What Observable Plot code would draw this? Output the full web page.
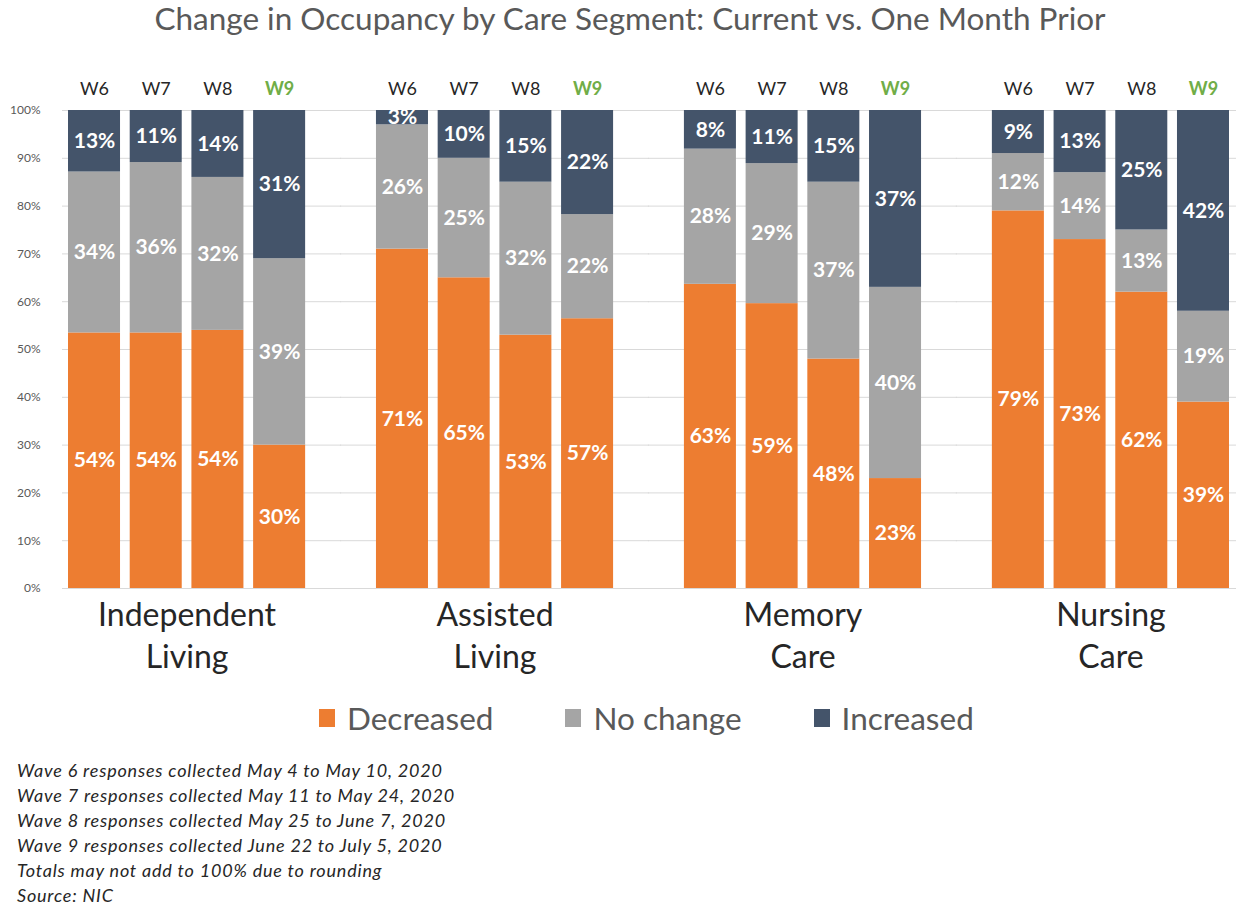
<!DOCTYPE html>
<html>
<head>
<meta charset="utf-8">
<script src="https://cdn.jsdelivr.net/npm/d3@7"></script>
<script src="https://cdn.jsdelivr.net/npm/@observablehq/plot@0.6"></script>
<style>
  html, body { margin: 0; padding: 0; background: #fff; }
  body { width: 1252px; font-family: Lato, "Noto Sans", sans-serif; }
  #title { height: 40px; line-height: 36px; text-align: center; font-size: 31.5px; color: #595959; padding-left: 8px; }
  #chart svg { display: block; overflow: visible; }
  #legend { height: 56px; display: flex; align-items: center; padding-left: 319px; font-size: 31.5px; color: #595959; }
  #legend .item { display: flex; align-items: center; margin-right: 72px; }
  #legend .sw { width: 16px; height: 18px; margin-right: 12px; }
  #notes { padding-top: 12px; padding-left: 17px; font-style: italic; font-size: 18px; letter-spacing: 0.8px; line-height: 25px; color: #262626; }
</style>
</head>
<body>
<div id="title">Change in Occupancy by Care Segment: Current vs. One Month Prior</div>
<div id="chart"></div>
<div id="legend"></div>
<div id="notes"></div>
<script>
const segments = ["Independent Living", "Assisted Living", "Memory Care", "Nursing Care"];
const segmentLabels = ["Independent\nLiving", "Assisted\nLiving", "Memory\nCare", "Nursing\nCare"];
const waves = ["W6", "W7", "W8", "W9"];
const statuses = ["Decreased", "No change", "Increased"];
const colors = ["#ED7D31", "#A5A5A5", "#44546A"];
// values per segment (rows) and wave (columns), in percent
const decreased = [[54, 54, 54, 30], [71, 65, 53, 57], [63, 59, 48, 23], [79, 73, 62, 39]];
const noChange  = [[34, 36, 32, 39], [26, 25, 32, 22], [28, 29, 37, 40], [12, 14, 13, 19]];
const increased = [[13, 11, 14, 31], [3, 10, 15, 22], [8, 11, 15, 37], [9, 13, 25, 42]];
const yTicks = [0, 0.1, 0.2, 0.3, 0.4, 0.5, 0.6, 0.7, 0.8, 0.9, 1];
const notes = [
  "Wave 6 responses collected May 4 to May 10, 2020",
  "Wave 7 responses collected May 11 to May 24, 2020",
  "Wave 8 responses collected May 25 to June 7, 2020",
  "Wave 9 responses collected June 22 to July 5, 2020",
  "Totals may not add to 100% due to rounding",
  "Source: NIC"
];

const series = [decreased, noChange, increased];
const rows = [];
const waveRows = [];
segments.forEach((seg, i) => {
  waves.forEach((w, j) => {
    waveRows.push({segment: seg, wave: w});
    statuses.forEach((s, k) => rows.push({segment: seg, wave: w, status: s, value: series[k][i][j]}));
  });
});
const gridFor = seg => yTicks.map(t => ({segment: seg, y: t}));
const last = segments.length - 1;

const chart = Plot.plot({
  width: 1252,
  height: 650,
  marginLeft: 62,
  marginRight: 17,
  marginTop: 70,
  marginBottom: 102,
  style: {fontFamily: "Lato, 'Noto Sans', sans-serif", fontSize: "12px", color: "#595959", background: "white", overflow: "visible"},
  fx: {domain: segments, paddingInner: 0.23, paddingOuter: 0.0195, axis: null, round: false, label: null},
  x: {domain: waves, paddingInner: 0.157, paddingOuter: 0, axis: null, round: false, label: null},
  y: {domain: [0, 1], ticks: yTicks, tickFormat: d3.format(".0%"), tickSize: 0, tickPadding: 28, label: null},
  color: {domain: statuses, range: colors},
  marks: [
    Plot.ruleY(gridFor(segments[0]), {fx: "segment", y: "y", stroke: "#D9D9D9", insetLeft: -6, insetRight: -36}),
    Plot.ruleY(segments.slice(1, last).flatMap(gridFor), {fx: "segment", y: "y", stroke: "#D9D9D9", insetLeft: -36, insetRight: -36}),
    Plot.ruleY(gridFor(segments[last]), {fx: "segment", y: "y", stroke: "#D9D9D9", insetLeft: -36, insetRight: -7}),
    Plot.barY(rows, Plot.stackY({fx: "segment", x: "wave", y: "value", z: "status", fill: "status", offset: "normalize"})),
    Plot.text(rows, Plot.stackY({fx: "segment", x: "wave", y: "value", z: "status", offset: "normalize",
      text: d => d.value + "%", fill: "white", fontWeight: "bold", fontSize: 21})),
    Plot.text(waveRows.filter(d => d.wave !== "W9"), {fx: "segment", x: "wave", text: "wave", frameAnchor: "top", dy: -28, fontSize: 18, fill: "#262626"}),
    Plot.text(waveRows.filter(d => d.wave === "W9"), {fx: "segment", x: "wave", text: "wave", frameAnchor: "top", dy: -28, fontSize: 18, fontWeight: "bold", fill: "#70AD47"}),
    Plot.text(segments, {fx: d => d, text: (d, i) => segmentLabels[i], frameAnchor: "bottom", lineAnchor: "top", dy: 8, fontSize: 32, lineHeight: 1.31, fill: "#262626"})
  ]
});
document.getElementById("chart").appendChild(chart);

const legend = document.getElementById("legend");
statuses.forEach((s, k) => {
  const item = document.createElement("div");
  item.className = "item";
  const sw = document.createElement("div");
  sw.className = "sw";
  sw.style.background = colors[k];
  const lab = document.createElement("span");
  lab.textContent = s;
  item.appendChild(sw);
  item.appendChild(lab);
  legend.appendChild(item);
});
const notesEl = document.getElementById("notes");
notes.forEach(n => { const d = document.createElement("div"); d.textContent = n; notesEl.appendChild(d); });
</script>
</body>
</html>
